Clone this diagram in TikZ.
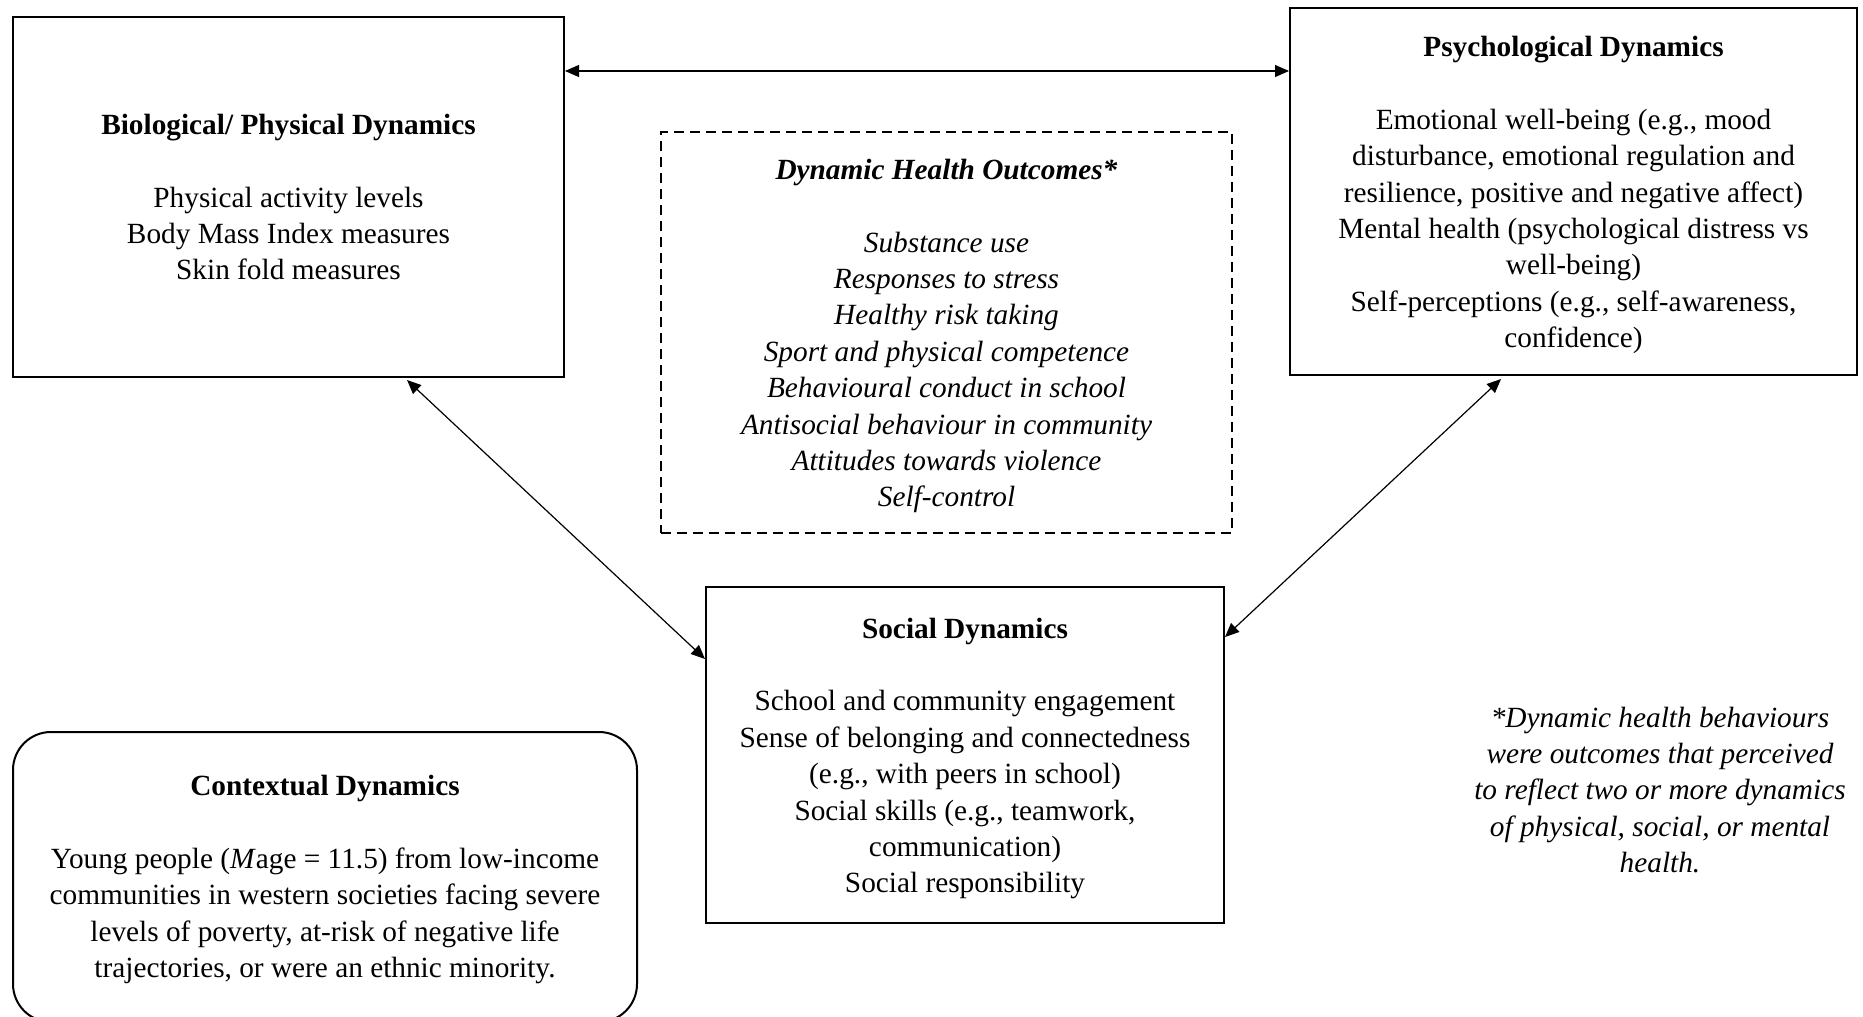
\documentclass[tikz,border=0pt]{standalone}
\usepackage{fontspec}
\setmainfont{Liberation Serif}
\usetikzlibrary{arrows.meta}

\tikzset{
  txt/.style={font=\fontsize{14.65}{18.2}\selectfont, align=center, inner sep=0pt},
  solidbox/.style={draw, line width=1pt, rectangle, inner sep=0pt},
  dashbox/.style={draw, line width=1pt, dash pattern=on 5pt off 3pt, rectangle, inner sep=0pt},
  roundbox/.style={draw, line width=1pt, rounded corners=19pt, rectangle, inner sep=0pt},
  link/.style={line width=0.6pt,
    {Triangle[length=7pt,width=6pt]}-{Triangle[length=7pt,width=6pt]}},
}

\begin{document}
\begin{tikzpicture}[x=0.5pt, y=-0.5pt]
  \useasboundingbox (0,0) rectangle (1863,1017);
  \clip (0,0) rectangle (1863,1017);

  % frames
  \node[solidbox, minimum width=275.5pt, minimum height=180pt] (bio) at (288.5,197) {};
  \node[solidbox, minimum width=283.5pt, minimum height=183.5pt] (psych) at (1573.5,191.5) {};
  \node[dashbox, minimum width=285.5pt, minimum height=200.5pt] (outc) at (946.5,332.5) {};
  \node[solidbox, minimum width=259pt, minimum height=168pt] (social) at (965,755) {};
  \node[roundbox, minimum width=312pt, minimum height=145pt] (ctx) at (325,877) {};

  % contents
  \node[txt] (bio-t) at (bio.center)
    {\textbf{Biological/ Physical Dynamics}\\[18.2pt]
     Physical activity levels\\
     Body Mass Index measures\\
     Skin fold measures};

  \node[txt] (psych-t) at ([yshift=-1.75pt]psych.center)
    {\textbf{Psychological Dynamics}\\[18.2pt]
     Emotional well-being (e.g., mood\\
     disturbance, emotional regulation and\\
     resilience, positive and negative affect)\\
     Mental health (psychological distress vs\\
     well-being)\\
     Self-perceptions (e.g., self-awareness,\\
     confidence)};

  \node[txt] (outc-t) at ([yshift=-1.75pt]outc.center)
    {\textbf{\itshape Dynamic Health Outcomes*}\\[18.2pt]
     \itshape Substance use\\
     \itshape Responses to stress\\
     \itshape Healthy risk taking\\
     \itshape Sport and physical competence\\
     \itshape Behavioural conduct in school\\
     \itshape Antisocial behaviour in community\\
     \itshape Attitudes towards violence\\
     \itshape Self-control};

  \node[txt] (social-t) at ([yshift=-1.75pt]social.center)
    {\textbf{Social Dynamics}\\[18.2pt]
     School and community engagement\\
     Sense of belonging and connectedness\\
     (e.g., with peers in school)\\
     Social skills (e.g., teamwork,\\
     communication)\\
     Social responsibility};

  \node[txt] (ctx-t) at ([yshift=-1.25pt]ctx.center)
    {\textbf{Contextual Dynamics}\\[18.2pt]
     Young people (\textit{M}age = 11.5) from low-income\\
     communities in western societies facing severe\\
     levels of poverty, at-risk of negative life\\
     trajectories, or were an ethnic minority.};

  % footnote
  \node[txt] (note) at (1660,790)
    {\itshape *Dynamic health behaviours\\
     \itshape were outcomes that perceived\\
     \itshape to reflect two or more dynamics\\
     \itshape of physical, social, or mental\\
     \itshape health.};

  % links between the dynamics
  \coordinate (toplvl) at (0,71);
  \draw[link] (toplvl -| bio.east) -- (toplvl -| psych.west);
  \draw[link] ([shift={(395,2)}]bio.south west) -- ([shift={(0,73)}]social.north west);
  \draw[link] ([shift={(212,3)}]psych.south west) -- ([shift={(0,51)}]social.north east);
\end{tikzpicture}
\end{document}
